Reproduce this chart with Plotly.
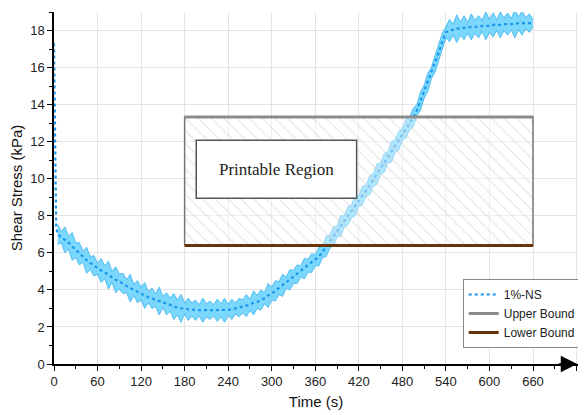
import plotly.graph_objects as go

# ---------------- data ----------------
time_s = list(range(5, 665, 5))

mean_kpa = [
    7.0, 6.85, 6.7, 6.55, 6.35, 6.15, 5.95, 5.8, 5.6, 5.45, 5.3, 5.15,
    5.05, 4.95, 4.8, 4.7, 4.55, 4.45, 4.35, 4.2, 4.1, 4.0, 3.9, 3.8,
    3.7, 3.6, 3.55, 3.45, 3.4, 3.35, 3.25, 3.2, 3.1, 3.05, 3.0, 3.0,
    2.95, 2.95, 2.9, 2.9, 2.9, 2.9, 2.9, 2.9, 2.9, 2.9, 2.9, 2.92,
    2.95, 3.0, 3.05, 3.1, 3.15, 3.2, 3.3, 3.35, 3.45, 3.55, 3.7, 3.8,
    3.95, 4.1, 4.25, 4.4, 4.55, 4.7, 4.85, 5.0, 5.15, 5.3, 5.45, 5.6,
    5.8, 6.05, 6.35, 6.6, 6.9, 7.15, 7.45, 7.7, 8.0, 8.25, 8.55, 8.8,
    9.1, 9.35, 9.65, 9.95, 10.25, 10.55, 10.85, 11.15, 11.45, 11.75, 12.05, 12.4,
    12.7, 13.0, 13.3, 13.7, 14.2, 14.7, 15.2, 15.7, 16.2, 16.8, 17.4, 17.9,
    18.0, 18.05, 18.1, 18.1, 18.15, 18.15, 18.2, 18.2, 18.2, 18.25, 18.25, 18.25,
    18.3, 18.3, 18.3, 18.35, 18.35, 18.35, 18.35, 18.4, 18.4, 18.4, 18.4, 18.4,
]

spread_kpa = [
    0.55, 0.3, 0.7, 0.35, 0.75, 0.4, 0.6, 0.3, 0.7, 0.35, 0.55, 0.3,
    0.65, 0.35, 0.75, 0.3, 0.7, 0.4, 0.55, 0.35, 0.75, 0.3, 0.6, 0.35,
    0.7, 0.3, 0.55, 0.35, 0.75, 0.3, 0.6, 0.35, 0.7, 0.4, 0.75, 0.3,
    0.6, 0.35, 0.55, 0.3, 0.65, 0.35, 0.5, 0.3, 0.6, 0.35, 0.65, 0.3,
    0.55, 0.3, 0.5, 0.35, 0.6, 0.3, 0.65, 0.35, 0.55, 0.3, 0.65, 0.35,
    0.55, 0.35, 0.6, 0.3, 0.55, 0.35, 0.5, 0.3, 0.55, 0.35, 0.5, 0.3,
    0.5, 0.3, 0.55, 0.35, 0.5, 0.3, 0.55, 0.3, 0.5, 0.35, 0.55, 0.3,
    0.5, 0.3, 0.5, 0.35, 0.55, 0.3, 0.5, 0.3, 0.55, 0.35, 0.5, 0.3,
    0.5, 0.35, 0.5, 0.3, 0.5, 0.35, 0.5, 0.3, 0.45, 0.4, 0.45, 0.3,
    0.6, 0.3, 0.75, 0.35, 0.65, 0.3, 0.7, 0.35, 0.6, 0.3, 0.75, 0.35,
    0.65, 0.3, 0.7, 0.35, 0.6, 0.3, 0.75, 0.35, 0.65, 0.3, 0.5, 0.2,
]

start_time = [0, 3]
start_kpa = [17.3, 7.4]

bound_time = [180, 660]
upper_bound = 13.33
lower_bound = 6.4

x_ticks = list(range(0, 721, 60))
y_ticks = list(range(0, 19, 2))

# ---------------- figure ----------------
upper = [m + s for m, s in zip(mean_kpa, spread_kpa)]
lower = [m - s for m, s in zip(mean_kpa, spread_kpa)]

fig = go.Figure()

# noisy band
fig.add_trace(go.Scatter(x=time_s, y=upper, mode="lines",
                         line=dict(color="#36b2f0", width=0.8),
                         showlegend=False, hoverinfo="skip"))
fig.add_trace(go.Scatter(x=time_s, y=lower, mode="lines", fill="tonexty",
                         fillcolor="rgba(100,208,250,0.85)",
                         line=dict(color="#36b2f0", width=0.8),
                         showlegend=False, hoverinfo="skip"))

# mean dotted line
fig.add_trace(go.Scatter(x=start_time + time_s, y=start_kpa + mean_kpa,
                         mode="lines", name="1%-NS",
                         line=dict(color="#1a96ee", width=2.2, dash="dot")))

# hatched printable region
fig.add_trace(go.Scatter(
    x=[bound_time[0], bound_time[1], bound_time[1], bound_time[0], bound_time[0]],
    y=[lower_bound, lower_bound, upper_bound, upper_bound, lower_bound],
    mode="lines", fill="toself",
    fillcolor="rgba(255,255,255,0.4)",
    fillpattern=dict(shape="\\", fgcolor="#c4c4c4", size=9, solidity=0.12,
                     fillmode="overlay"),
    line=dict(color="#777777", width=1.5),
    showlegend=False, hoverinfo="skip"))

fig.add_trace(go.Scatter(x=bound_time, y=[upper_bound, upper_bound],
                         mode="lines", name="Upper Bound",
                         line=dict(color="#8c8c8c", width=3)))
fig.add_trace(go.Scatter(x=bound_time, y=[lower_bound, lower_bound],
                         mode="lines", name="Lower Bound",
                         line=dict(color="#6b3308", width=3)))

# label box
fig.add_shape(type="rect", x0=196, x1=417, y0=8.95, y1=12.08,
              line=dict(color="#555555", width=1.5), fillcolor="white",
              layer="above")
fig.add_annotation(x=306.5, y=10.5, text="Printable Region", showarrow=False,
                   font=dict(family="Liberation Serif, Times New Roman, serif",
                             size=17, color="#222222"))

# axis arrows
fig.add_annotation(x=0, y=19.1, ax=0, ay=20, text="", showarrow=True,
                   arrowhead=2, arrowsize=2.2, arrowwidth=1.5,
                   arrowcolor="black", standoff=0)
fig.add_annotation(x=721, y=0, ax=-20, ay=0, text="", showarrow=True,
                   arrowhead=2, arrowsize=2.2, arrowwidth=1.5,
                   arrowcolor="black", standoff=0)

axis_font = dict(family="Liberation Sans, Arial, sans-serif", size=13, color="#222222")

fig.update_xaxes(range=[0, 722], tickvals=x_ticks, showgrid=True,
                 gridcolor="#e4e4e4", gridwidth=1, zeroline=False,
                 showline=True, linecolor="black", linewidth=1.5,
                 ticks="outside", ticklen=5, tickwidth=1.2, tickcolor="black",
                 minor=dict(dtick=30, tick0=0, ticks="outside", ticklen=3,
                            tickcolor="black", showgrid=False),
                 tickfont=axis_font, automargin=False,
                 title=dict(text="Time (s)",
                            font=dict(family="Liberation Sans, Arial, sans-serif",
                                      size=15, color="#111111"),
                            standoff=8))
fig.update_yaxes(range=[0, 19], tickvals=y_ticks, showgrid=True,
                 gridcolor="#e4e4e4", gridwidth=1, zeroline=False,
                 showline=True, linecolor="black", linewidth=1.5,
                 ticks="outside", ticklen=5, tickwidth=1.2, tickcolor="black",
                 minor=dict(dtick=1, tick0=0, ticks="outside", ticklen=3,
                            tickcolor="black", showgrid=False),
                 tickfont=axis_font, automargin=False,
                 title=dict(text="Shear Stress (kPa)",
                            font=dict(family="Liberation Sans, Arial, sans-serif",
                                      size=15, color="#111111"),
                            standoff=6))

# the page body adds an 8 px offset, so the figure is 8 px smaller each way
fig.update_layout(
    width=578, height=407,
    margin=dict(l=46, r=8, t=4, b=51, autoexpand=False),
    plot_bgcolor="white", paper_bgcolor="white",
    legend=dict(x=0.78, y=0.2415, xanchor="left", yanchor="top",
                bgcolor="white", bordercolor="#888888", borderwidth=1,
                font=dict(family="Liberation Sans, Arial, sans-serif", size=12,
                          color="#222222"),
                traceorder="normal", tracegroupgap=0, itemwidth=30),
    showlegend=True,
)

fig.write_html("out.html")
